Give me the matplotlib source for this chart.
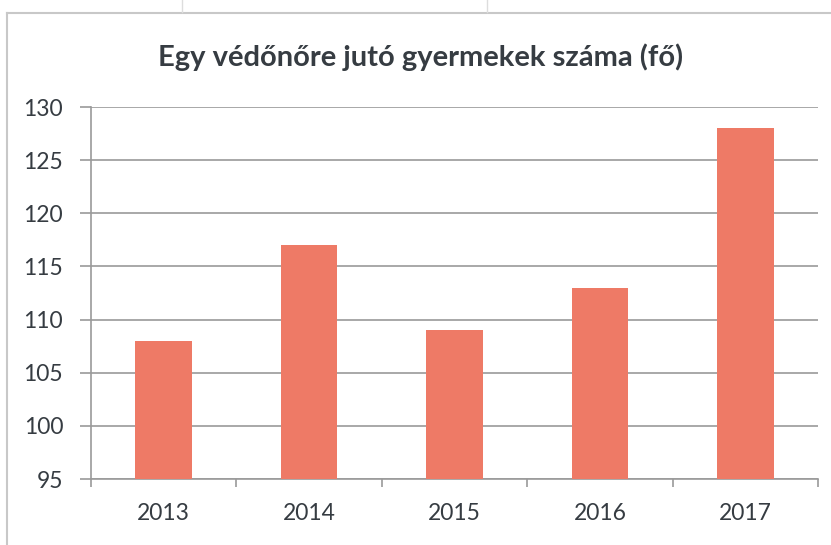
import matplotlib
matplotlib.use("Agg")
import matplotlib.pyplot as plt
from matplotlib.lines import Line2D

years = ["2013", "2014", "2015", "2016", "2017"]
values = [108, 117, 109, 113, 128]
yticks = [95, 100, 105, 110, 115, 120, 125, 130]
title = "Egy védőnőre jutó gyermekek száma (fő)"

plt.rcParams['font.family'] = ['Lato', 'DejaVu Sans']
W, H = 831, 545
fig = plt.figure(figsize=(W / 100, H / 100), dpi=100)
fig.patch.set_facecolor("white")

ax = fig.add_axes([91 / W, 1 - 479 / H, (818 - 91) / W, (479 - 107) / H])
x = list(range(len(years)))
ax.bar(x, values, width=0.39, color="#EE7A66", zorder=3)
ax.set_xlim(-0.5, len(years) - 0.5)
ax.set_ylim(95, 130)
ax.set_yticks(yticks)
ax.set_yticklabels([str(v) for v in yticks])
ax.set_xticks(x)
ax.set_xticklabels(years)
ax.set_xticks([i - 0.5 for i in range(len(years) + 1)], minor=True)
ax.tick_params(axis="x", which="major", length=0, pad=17, labelsize=16.5, labelcolor="#363c42")
ax.tick_params(axis="x", which="minor", length=5.5, width=1.2, color="#9a9a9a", direction="out")
ax.tick_params(axis="y", which="major", length=8, width=1.2, color="#9a9a9a", pad=12,
               labelsize=16.5, labelcolor="#363c42")
ax.yaxis.grid(True, color="#9a9a9a", linewidth=1.2, zorder=0)
for s in ["top", "right"]:
    ax.spines[s].set_visible(False)
for s in ["left", "bottom"]:
    ax.spines[s].set_color("#9a9a9a")
    ax.spines[s].set_linewidth(1.2)

fig.text(421 / W, 1 - 57 / H, title, ha="center", va="center", fontsize=21,
         fontweight="bold", color="#363c42")

# outer chart frame (scan)
fig.add_artist(Line2D([7 / W, 1.0], [1 - 13 / H, 1 - 13 / H], color="#c8c8c8", lw=1.5))
fig.add_artist(Line2D([7 / W, 7 / W], [0, 1 - 13 / H], color="#c8c8c8", lw=1.5))
for xx in [182, 487]:
    fig.add_artist(Line2D([xx / W, xx / W], [1 - 12 / H, 1.0], color="#dddddd", lw=1))

fig.savefig("out.png", dpi=100)
